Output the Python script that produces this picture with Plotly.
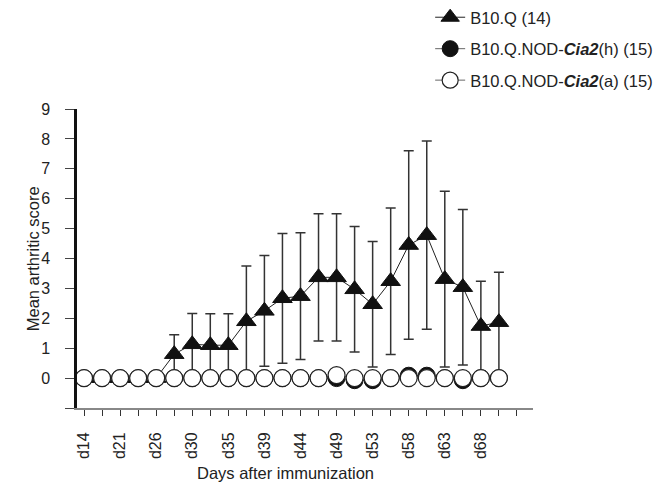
import plotly.graph_objects as go

# measurement index (24 time points) and tick labels (every other point labelled)
x_idx = list(range(24))
tick_labels = ["d14", "d21", "d26", "d30", "d35", "d39", "d44", "d49", "d53", "d58", "d63", "d68"]

b10q_mean = [0, 0, 0, 0, 0, 0.8, 1.13, 1.1, 1.1, 1.9, 2.25, 2.67, 2.74, 3.37, 3.37, 2.97,
             2.47, 3.24, 4.45, 4.78, 3.31, 3.04, 1.74, 1.87]
b10q_sd = [0, 0, 0, 0, 0, 0.65, 1.03, 1.05, 1.05, 1.85, 1.85, 2.17, 2.12, 2.13, 2.13, 2.1,
           2.1, 2.45, 3.15, 3.15, 2.94, 2.6, 1.5, 1.67]
cia2h_mean = [0, 0, 0, 0, 0, 0, 0, 0, 0, 0, 0, 0, 0, 0, 0, -0.07,
              -0.07, 0, 0.08, 0.08, 0, -0.07, 0, 0]
cia2a_mean = [0, 0, 0, 0, 0, 0, 0, 0, 0, 0, 0, 0, 0, 0, 0.1, 0,
              0, 0, 0, 0, 0, 0, 0, 0]

n_ticks = 25
tickvals = list(range(n_ticks))
ticktext = [tick_labels[i // 2] if i % 2 == 0 and i // 2 < len(tick_labels) else "" for i in tickvals]

font = "Liberation Sans, Arial, Helvetica, sans-serif"

fig = go.Figure()
fig.add_trace(go.Scatter(
    x=x_idx, y=b10q_mean, mode="lines+markers", name="B10.Q (14)",
    legendgroup="a",
    line=dict(color="#222", width=1),
    marker=dict(symbol="triangle-up", size=17, color="#111", line=dict(color="#111", width=1)),
    error_y=dict(type="data", array=b10q_sd, visible=True, color="#333", thickness=1.5, width=5),
))
fig.add_trace(go.Scatter(
    x=x_idx, y=cia2h_mean, mode="lines+markers", name="B10.Q.NOD-<b><i>Cia2</i></b>(h) (15)",
    legendgroup="b",
    line=dict(color="#666", width=1),
    marker=dict(symbol="circle", size=17, color="#111", line=dict(color="#111", width=1)),
))
fig.add_trace(go.Scatter(
    x=x_idx, y=cia2a_mean, mode="lines+markers", name="B10.Q.NOD-<b><i>Cia2</i></b>(a) (15)",
    legendgroup="c",
    line=dict(color="#666", width=1),
    marker=dict(symbol="circle", size=17, color="white", line=dict(color="#222", width=1.2)),
))

fig.update_layout(
    width=669, height=487,
    margin=dict(l=77, r=136, t=109, b=79, autoexpand=False),
    paper_bgcolor="white", plot_bgcolor="white",
    font=dict(family=font, size=16, color="#222"),
    showlegend=True,
    legend=dict(xref="container", yref="container", x=0.643, y=1.01, xanchor="left", yanchor="top",
                font=dict(size=16.5, color="#222"), tracegroupgap=7, borderwidth=0,
                bgcolor="rgba(0,0,0,0)"),
    xaxis=dict(range=[-0.39, 24.89], tickmode="array", tickvals=tickvals, ticktext=ticktext,
               tickangle=-90, ticks="outside", ticklen=6, tickcolor="#333", tickwidth=1,
               showline=True, linecolor="#888", linewidth=2, showgrid=False, zeroline=False,
               ticklabelstandoff=10, tickfont=dict(size=16), automargin=False),
    yaxis=dict(range=[-1, 9], tickmode="array", tickvals=list(range(-1, 10)),
               ticktext=[""] + [str(v) for v in range(0, 10)],
               ticks="outside", ticklen=9, tickcolor="#444", tickwidth=1,
               showline=True, linecolor="#111", linewidth=2.5, showgrid=False, zeroline=False,
               ticklabelstandoff=12, tickfont=dict(size=16), automargin=False),
    annotations=[
        dict(text="Days after immunization", xref="paper", yref="paper", x=0.457, y=-0.218,
             xanchor="center", yanchor="middle", showarrow=False, font=dict(size=16.5)),
        dict(text="Mean arthritic score", xref="paper", yref="paper", x=-0.097, y=0.5,
             xanchor="center", yanchor="middle", textangle=-90, showarrow=False, font=dict(size=16.5)),
    ],
)

fig.write_html("out.html")
